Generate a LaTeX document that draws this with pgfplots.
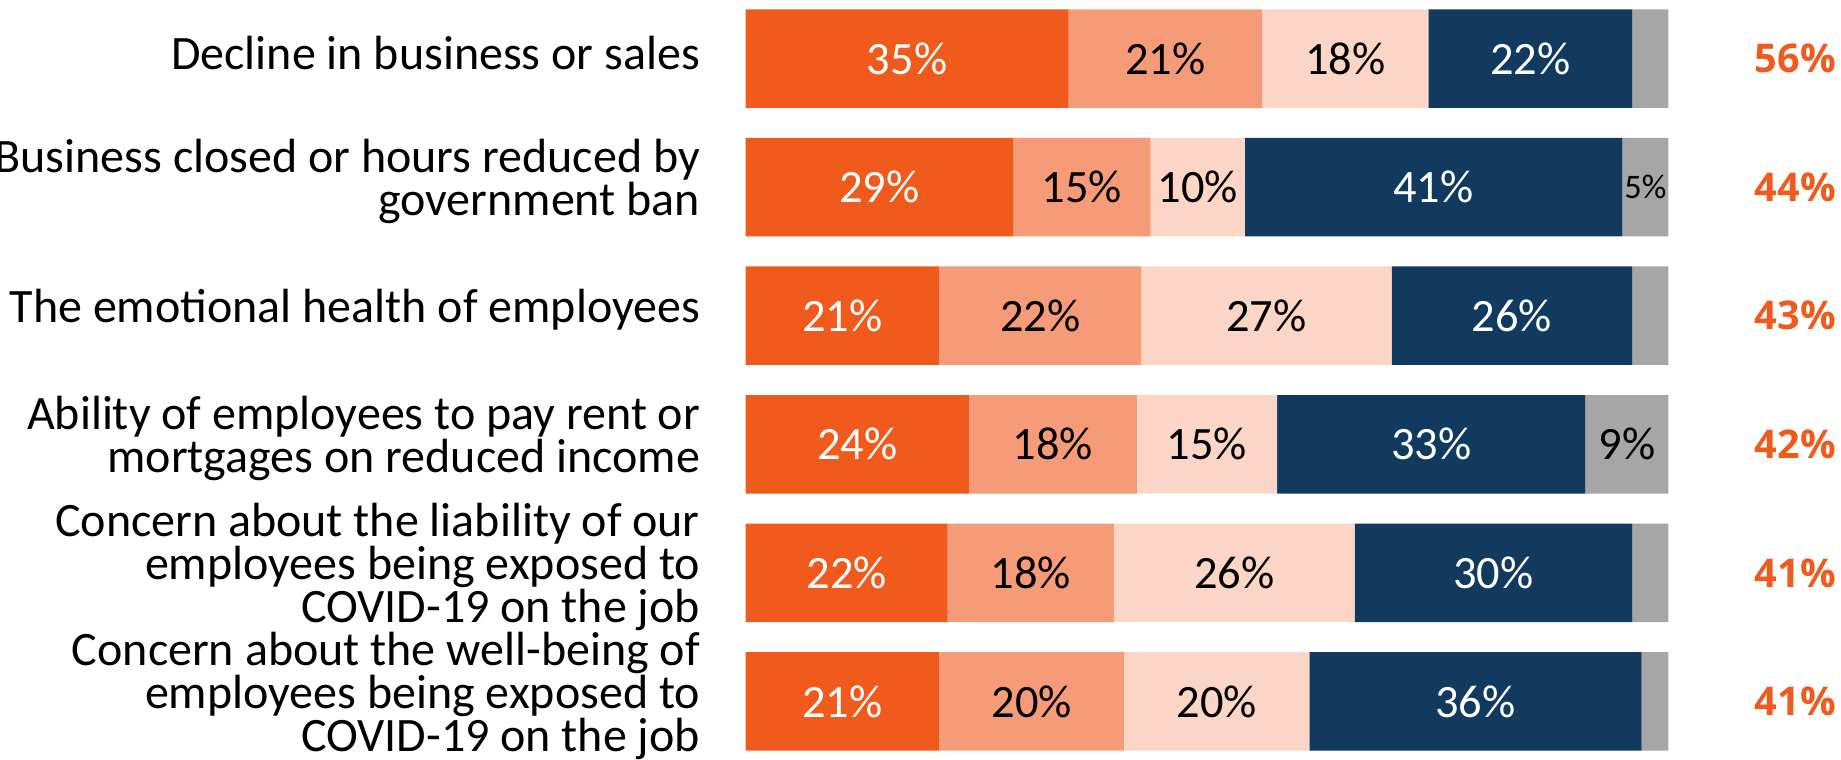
\documentclass[border=0pt]{standalone}
\usepackage{pgfplots}
\pgfplotsset{compat=1.18}
\usepackage{pgfplotstable}
\usepackage{fontspec}
\setmainfont{Carlito}
\newfontfamily\osans{Open Sans}
\definecolor{c1}{HTML}{F05A1C}
\definecolor{c2}{HTML}{F69B77}
\definecolor{c3}{HTML}{FBD5C5}
\definecolor{c4}{HTML}{113A5E}
\definecolor{c5}{HTML}{A6A6A6}
\definecolor{rt}{HTML}{F05A1C}
\newcommand\sm{\fontsize{8.6bp}{9bp}\selectfont}
\pgfplotstableread{
row a b c d e la lb lc ld le
0 35 21 18 22.1 3.9 35 21 18 22 {}
1 29 14.9 10.2 40.9 5 29 15 10 41 \sm5\%
2 21 21.9 27.1 26.1 3.9 21 22 27 26 {}
3 24.2 18.2 15.2 33.4 9 24 18 15 33 9\%
4 21.9 18 26.1 30.1 3.9 22 18 26 30 {}
5 21 20 20.1 36 2.9 21 20 20 36 {}
}\datatable
\pgfplotstableread{
row x lab
0 100 56\%
1 100 44\%
2 100 43\%
3 100 42\%
4 100 41\%
5 100 41\%
}\tottable
\begin{document}
\begin{tikzpicture}
\begin{axis}[name=ax, scale only axis, width=230.7bp, height=190bp,
  xbar stacked, bar width=0.766,
  xmin=0, xmax=100, ymin=-0.456, ymax=5.456, y dir=reverse,
  axis line style={draw=none}, xtick=\empty,
  ytick={0,1,2,3,4,5},
  yticklabels={Decline in business or sales,
    {Business closed or hours reduced by\\government ban},
    The emotional health of employees,
    {Ability of employees to pay rent or\\mortgages on reduced income},
    {Concern about the liability of our\\employees being exposed to\\COVID-19 on the job},
    {Concern about the well-being of\\employees being exposed to\\COVID-19 on the job}},
  ytick style={draw=none}, major tick length=0pt,
  yticklabel style={align=right, inner sep=0pt, xshift=-11.2bp, yshift=1.4bp, font=\fontsize{12bp}{10.7bp}\selectfont},
  clip=false,
  point meta=explicit symbolic,
  nodes near coords style={font=\fontsize{11.6bp}{12bp}\selectfont},
  every node near coord/.append style={anchor=center},
]
\addplot[fill=c1, draw=none,
  nodes near coords={\pgfplotspointmeta\%}, every node near coord/.append style={text=white}]
  table[x=a, y=row, meta=la] {\datatable};
\addplot[fill=c2, draw=none,
  nodes near coords={\pgfplotspointmeta\%}, every node near coord/.append style={text=black}]
  table[x=b, y=row, meta=lb] {\datatable};
\addplot[fill=c3, draw=none,
  nodes near coords={\pgfplotspointmeta\%}, every node near coord/.append style={text=black}]
  table[x=c, y=row, meta=lc] {\datatable};
\addplot[fill=c4, draw=none,
  nodes near coords={\pgfplotspointmeta\%}, every node near coord/.append style={text=white}]
  table[x=d, y=row, meta=ld] {\datatable};
\addplot[fill=c5, draw=none,
  nodes near coords={\pgfplotspointmeta}, every node near coord/.append style={text=black}]
  table[x=e, y=row, meta=le] {\datatable};
\end{axis}
\begin{axis}[scale only axis, width=230.7bp, height=190bp, at={(ax.south west)}, anchor=south west,
  xmin=0, xmax=100, ymin=-0.456, ymax=5.456, y dir=reverse, hide axis, clip=false]
\addplot[draw=none, mark=none, nodes near coords, point meta=explicit symbolic,
  every node near coord/.append style={anchor=west, inner sep=0pt, xshift=21.4bp, text=rt, font=\osans\bfseries\fontsize{9.9bp}{10bp}\selectfont}]
  table[x=x, y=row, meta=lab] {\tottable};
\end{axis}
\pgfresetboundingbox
\path ([xshift=-186.4bp]ax.south west) rectangle ([xshift=43.15bp]ax.north east);
\end{tikzpicture}
\end{document}
